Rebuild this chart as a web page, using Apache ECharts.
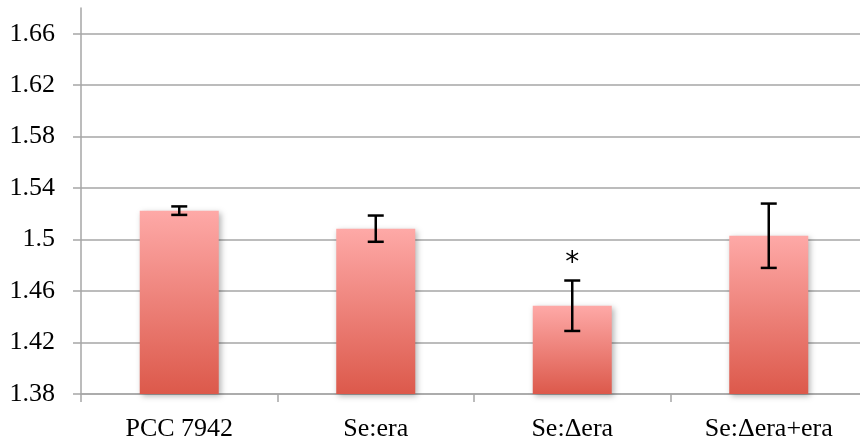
<!DOCTYPE html>
<html>
<head>
<meta charset="utf-8">
<script src="https://cdn.jsdelivr.net/npm/echarts@6/dist/echarts.min.js"></script>
<style>
  html, body { margin: 0; padding: 0; background: #ffffff; overflow: hidden; }
  #chart { width: 860px; height: 444px; }
</style>
</head>
<body>
<div id="chart"></div>
<script>
// Strain categories and measured means with their error margins
const categories = ['PCC 7942', 'Se:era', 'Se:\u0394era', 'Se:\u0394era+era'];
const means = [1.5225, 1.5085, 1.4486, 1.503];
const errors = [0.0033, 0.0102, 0.0196, 0.025];
const significance = ['', '', '*', ''];
const yTicks = [1.38, 1.42, 1.46, 1.50, 1.54, 1.58, 1.62, 1.66];

const axisGrey = '#a6a6a6';
const labelFont = 'Liberation Serif';

// Rows for the error-bar series: [category index, low, high, mark]
const errorRows = means.map((m, i) => [i, m - errors[i], m + errors[i], significance[i]]);

const chart = echarts.init(document.getElementById('chart'));

chart.setOption({
  animation: false,
  // plot area runs slightly past the right edge of the canvas
  grid: {
    left: 81, width: 786, top: 8, bottom: 50,
    containLabel: false,
    outerBoundsMode: 'none'
  },
  xAxis: {
    type: 'category',
    data: categories,
    boundaryGap: true,
    axisLine: { lineStyle: { color: axisGrey, width: 1.5 } },
    axisTick: { show: true, length: 8, lineStyle: { color: axisGrey, width: 1.5 } },
    axisLabel: {
      margin: 22,
      color: '#000',
      fontFamily: labelFont,
      fontSize: 26
    },
    splitLine: { show: false }
  },
  yAxis: {
    type: 'value',
    min: 1.38,
    max: 1.68,
    axisLine: { show: true, lineStyle: { color: axisGrey, width: 1.5 } },
    axisTick: {
      show: true,
      length: 8,
      customValues: yTicks,
      lineStyle: { color: axisGrey, width: 1.5 }
    },
    axisLabel: {
      customValues: yTicks,
      margin: 26,
      color: '#000',
      fontFamily: labelFont,
      fontSize: 26,
      formatter: v => String(Math.round(v * 100) / 100)
    },
    splitLine: { show: true, lineStyle: { color: axisGrey, width: 1.5 } }
  },
  series: [
    {
      type: 'bar',
      data: means,
      barWidth: 79,
      itemStyle: {
        color: new echarts.graphic.LinearGradient(0, 0, 0, 1, [
          { offset: 0, color: '#fea9a7' },
          { offset: 1, color: '#dc594b' }
        ]),
        shadowBlur: 6,
        shadowOffsetX: 2,
        shadowOffsetY: 2,
        shadowColor: 'rgba(0,0,0,0.3)'
      },
      z: 2
    },
    {
      type: 'custom',
      data: errorRows,
      z: 5,
      renderItem: function (params, api) {
        const idx = api.value(0);
        const top = api.coord([idx, api.value(2)]);
        const bottom = api.coord([idx, api.value(1)]);
        const half = 8;
        const style = { stroke: '#000', lineWidth: 2.5 };
        const children = [
          { type: 'line', shape: { x1: top[0], y1: top[1], x2: bottom[0], y2: bottom[1] }, style },
          { type: 'line', shape: { x1: top[0] - half, y1: top[1], x2: top[0] + half, y2: top[1] }, style },
          { type: 'line', shape: { x1: bottom[0] - half, y1: bottom[1], x2: bottom[0] + half, y2: bottom[1] }, style }
        ];
        const mark = errorRows[params.dataIndex][3];
        if (mark) {
          // significance star above the upper whisker
          children.push({
            type: 'text',
            x: top[0],
            y: top[1] - 17,
            style: {
              text: mark,
              fill: '#000',
              font: '28px "DejaVu Sans"',
              align: 'center',
              verticalAlign: 'middle'
            }
          });
        }
        return { type: 'group', children };
      }
    }
  ]
});
</script>
</body>
</html>
